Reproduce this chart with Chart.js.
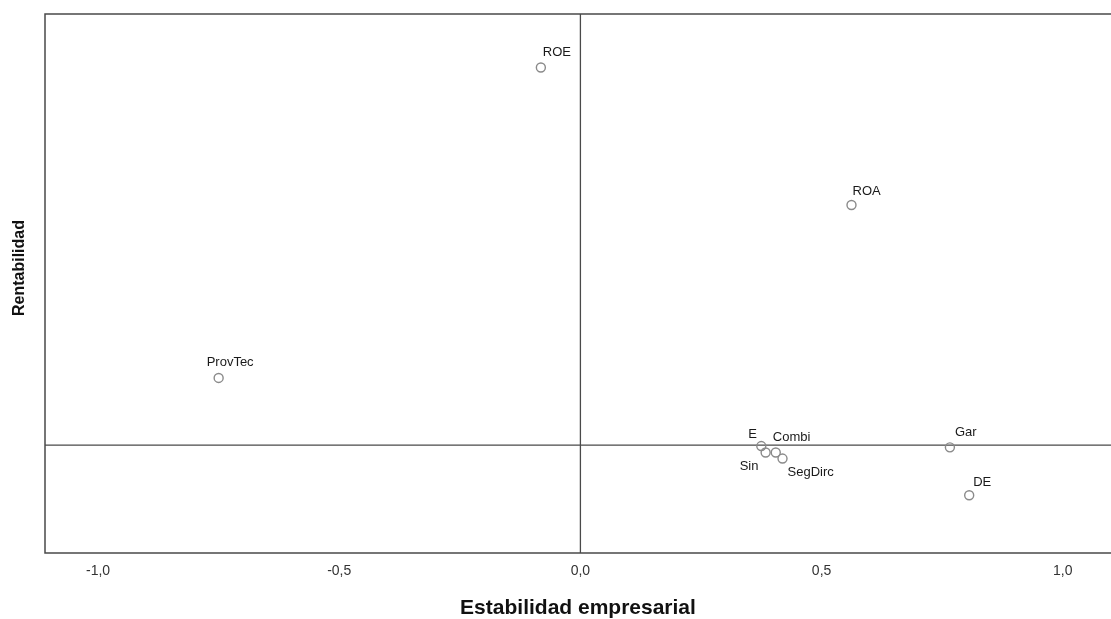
<!DOCTYPE html>
<html>
<head>
<meta charset="utf-8">
<script src="https://cdn.jsdelivr.net/npm/chart.js@4.4.1/dist/chart.umd.min.js"></script>
<style>
  html, body { margin: 0; padding: 0; background: #ffffff; }
  #wrap { width: 1111px; height: 619px; }
</style>
</head>
<body>
<div id="wrap"><canvas id="plot" width="1111" height="619"></canvas></div>
<script>
// Component loadings: variable names and their coordinates on the two components
const variables = ['ROE', 'ROA', 'ProvTec', 'E', 'Sin', 'Combi', 'SegDirc', 'Gar', 'DE'];
const estabilidad = [-0.082, 0.562, -0.750, 0.375, 0.384, 0.405, 0.419, 0.766, 0.806];
const rentabilidad = [0.876, 0.557, 0.156, -0.002, -0.017, -0.017, -0.031, -0.005, -0.116];

// Tick values shown on the horizontal axis
const xTickValues = [-1.0, -0.5, 0.0, 0.5, 1.0];

// Label placement around each marker (pixel offsets, text starts at the offset)
const labelOffsets = {
  ROE: [2, -15], ROA: [1, -14], ProvTec: [-12, -16], E: [-13, -12],
  Sin: [-26, 14], Combi: [-3, -15], SegDirc: [5, 14], Gar: [5, -15], DE: [4, -13]
};

const FONT = '"Liberation Sans", Arial, sans-serif';
const LINE = '#4a4a4a';

const points = variables.map((n, i) => ({ x: estabilidad[i], y: rentabilidad[i], name: n }));

// Frame (top, left, bottom), reference lines at zero and the vertical axis title
const framePlugin = {
  id: 'frame',
  beforeDatasetsDraw(chart) {
    const { ctx, chartArea: a, scales } = chart;
    const x0 = scales.x.getPixelForValue(0);
    const y0 = scales.y.getPixelForValue(0);
    ctx.save();
    ctx.strokeStyle = LINE;
    ctx.lineWidth = 1.5;
    ctx.beginPath();
    ctx.moveTo(a.right + 2, a.top);
    ctx.lineTo(a.left, a.top);
    ctx.lineTo(a.left, a.bottom);
    ctx.lineTo(a.right + 2, a.bottom);
    ctx.stroke();
    ctx.lineWidth = 1.3;
    ctx.beginPath();
    ctx.moveTo(x0, a.top);
    ctx.lineTo(x0, a.bottom);
    ctx.moveTo(a.left, y0);
    ctx.lineTo(a.right + 2, y0);
    ctx.stroke();
    ctx.restore();
  },
  afterDraw(chart) {
    const { ctx } = chart;
    ctx.save();
    ctx.fillStyle = '#111111';
    ctx.font = 'bold 16px ' + FONT;
    ctx.textAlign = 'center';
    ctx.textBaseline = 'middle';
    ctx.translate(20, 268);
    ctx.rotate(-Math.PI / 2);
    ctx.fillText('Rentabilidad', 0, 0);
    ctx.restore();
  }
};

// Variable names next to their markers
const namePlugin = {
  id: 'names',
  afterDatasetsDraw(chart) {
    const { ctx } = chart;
    const meta = chart.getDatasetMeta(0);
    ctx.save();
    ctx.fillStyle = '#1a1a1a';
    ctx.font = '13px ' + FONT;
    ctx.textAlign = 'left';
    ctx.textBaseline = 'middle';
    meta.data.forEach((el, i) => {
      const name = variables[i];
      const off = labelOffsets[name] || [3, -14];
      ctx.fillText(name, el.x + off[0], el.y + off[1]);
    });
    ctx.restore();
  }
};

new Chart(document.getElementById('plot'), {
  type: 'scatter',
  data: {
    datasets: [{
      data: points,
      pointRadius: 4.5,
      pointHoverRadius: 4.5,
      pointBorderWidth: 1.4,
      pointBorderColor: '#8a8a8a',
      pointBackgroundColor: 'rgba(255,255,255,0)'
    }]
  },
  options: {
    responsive: false,
    animation: false,
    layout: { autoPadding: false, padding: { top: 14, right: 0, bottom: 0, left: 0 } },
    plugins: { legend: { display: false }, tooltip: { enabled: false } },
    scales: {
      x: {
        type: 'linear',
        min: -1.11,
        max: 1.10,
        grid: { display: false },
        border: { display: false },
        afterBuildTicks(scale) { scale.ticks = xTickValues.map(v => ({ value: v })); },
        afterFit(scale) { scale.height = 66; },
        ticks: {
          padding: 2,
          color: '#333333',
          font: { family: FONT, size: 14 },
          callback: v => Number(v).toFixed(1).replace('.', ',')
        },
        title: {
          display: true,
          text: 'Estabilidad empresarial',
          color: '#111111',
          font: { family: FONT, size: 21, weight: 'bold' },
          padding: { top: 0, bottom: -2 }
        }
      },
      y: {
        type: 'linear',
        min: -0.25,
        max: 1.0,
        grid: { display: false },
        border: { display: false },
        ticks: { display: false },
        afterFit(scale) { scale.width = 45; }
      }
    }
  },
  plugins: [framePlugin, namePlugin]
});
</script>
</body>
</html>
